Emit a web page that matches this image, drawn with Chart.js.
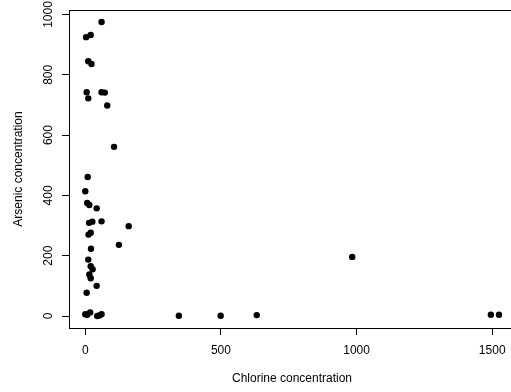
<!DOCTYPE html>
<html>
<head>
<meta charset="utf-8">
<script src="https://cdn.jsdelivr.net/npm/chart.js@4/dist/chart.umd.min.js"></script>
<style>
  html, body { margin: 0; padding: 0; background: #ffffff; overflow: hidden; }
  #wrap { position: absolute; left: 0; top: 0; width: 530px; height: 392px; }
</style>
</head>
<body>
<div id="wrap"><canvas id="c" width="530" height="392"></canvas></div>
<script>
// ---- data ----
const chlorine = [60, 3, 20, 11, 23, 5, 11, 60, 72, 81, 106, 9, 0, 7, 15, 42, 14, 26, 60, 160,
                  12, 20, 124, 21, 11, 20, 27, 15, 20, 42, 5, 0, 7, 18, 44, 52, 60,
                  345, 499, 632, 984, 1495, 1525];
const arsenic  = [975, 925, 932, 845, 836, 742, 722, 742, 741, 698, 561, 461, 414, 375, 368, 357, 309, 313, 314, 298,
                  270, 276, 236, 223, 187, 165, 155, 138, 125, 100, 77, 6, 4, 12, 0, 2, 6,
                  1, 1, 3, 196, 4, 4];
const xTicks = [0, 500, 1000, 1500];
const yTicks = [0, 200, 400, 600, 800, 1000];
const xTitle = 'Chlorine concentration';
const yTitle = 'Arsenic concentration';

const points = chlorine.map((x, i) => ({ x: x, y: arsenic[i] }));
const FONT = { family: '"Liberation Sans", Arial, Helvetica, sans-serif', size: 12 };

const boxPlugin = {
  id: 'box',
  beforeDatasetsDraw(chart) {
    const a = chart.chartArea, ctx = chart.ctx;
    ctx.save();
    ctx.strokeStyle = '#000';
    ctx.lineWidth = 1;
    ctx.strokeRect(Math.round(a.left) + 0.5, Math.round(a.top) + 0.5,
                   Math.round(a.right - a.left), Math.round(a.bottom - a.top));
    ctx.restore();
  }
};

new Chart(document.getElementById('c'), {
  type: 'scatter',
  data: {
    datasets: [{
      data: points,
      backgroundColor: '#000',
      borderWidth: 0,
      pointRadius: 3.2,
      pointHoverRadius: 3.2
    }]
  },
  options: {
    responsive: false,
    animation: false,
    devicePixelRatio: 1,
    layout: { padding: { left: 0, top: 10, right: 15, bottom: 0 } },
    plugins: { legend: { display: false }, tooltip: { enabled: false } },
    scales: {
      x: {
        type: 'linear',
        min: -60, max: 1584,
        afterBuildTicks(s) { s.ticks = xTicks.map(v => ({ value: v })); },
        afterFit(s) { s.height = 64; },
        grid: { display: true, drawOnChartArea: false, drawTicks: true, tickLength: 7, color: '#000', lineWidth: 1 },
        border: { display: true, color: '#000', width: 1 },
        ticks: { color: '#000', font: FONT, padding: 8, maxRotation: 0, minRotation: 0,
                 callback: v => String(v) },
        title: { display: true, text: xTitle, color: '#000', font: FONT, padding: { top: 0, bottom: 6 } }
      },
      y: {
        type: 'linear',
        min: -39.8, max: 1015,
        afterBuildTicks(s) { s.ticks = yTicks.map(v => ({ value: v })); },
        afterFit(s) { s.width = 69; },
        grid: { display: true, drawOnChartArea: false, drawTicks: true, tickLength: 7, color: '#000', lineWidth: 1 },
        border: { display: true, color: '#000', width: 1 },
        ticks: { color: '#000', font: FONT, padding: 0, minRotation: 90, maxRotation: 90, crossAlign: 'center',
                 callback: v => String(v) },
        title: { display: true, text: yTitle, color: '#000', font: FONT, padding: { top: 11, bottom: 0 } }
      }
    }
  },
  plugins: [boxPlugin]
});
</script>
</body>
</html>
